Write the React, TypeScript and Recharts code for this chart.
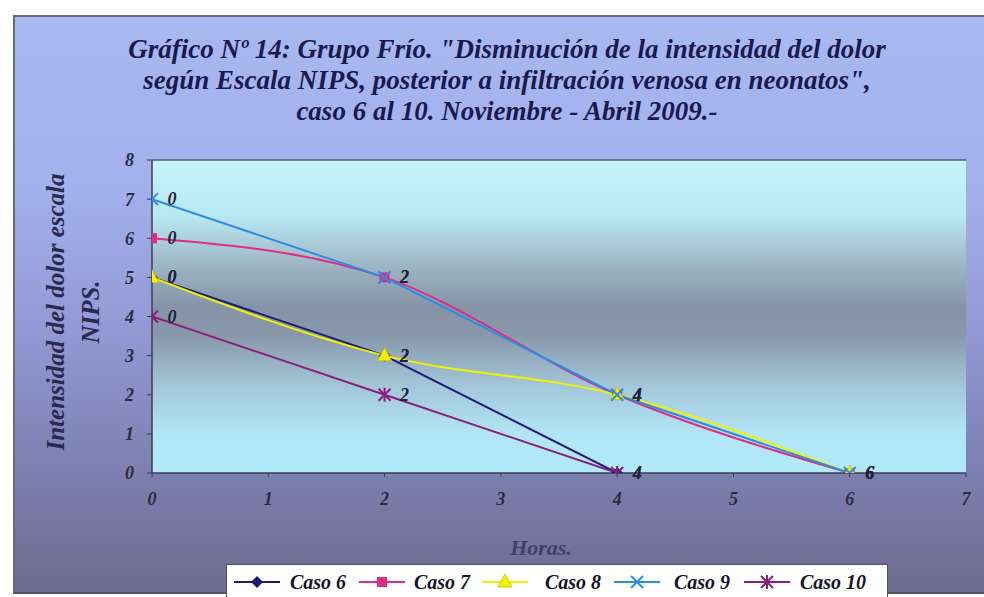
import React from "react";
import {
  LineChart,
  Line,
  XAxis,
  YAxis,
  CartesianGrid,
  LabelList,
  ReferenceLine,
} from "recharts";

// ---- data ----
const horas = [0, 2, 4, 6];
const caso6: (number | null)[] = [5, 3, 0, null];
const caso7: (number | null)[] = [6, 5, 2, 0];
const caso8: (number | null)[] = [5, 3, 2, 0];
const caso9: (number | null)[] = [7, 5, 2, 0];
const caso10: (number | null)[] = [4, 2, 0, null];

const xTicks = [0, 1, 2, 3, 4, 5, 6, 7];
const yTicks = [0, 1, 2, 3, 4, 5, 6, 7, 8];

const titleLines = [
  'Gráfico Nº 14: Grupo Frío. "Disminución de la intensidad del dolor',
  'según Escala NIPS, posterior a infiltración venosa en neonatos",',
  "caso 6 al 10. Noviembre - Abril 2009.-",
];
const yLabelLines = ["Intensidad del dolor escala", "NIPS."];
const xLabel = "Horas.";

const seriesNames = ["Caso 6", "Caso 7", "Caso 8", "Caso 9", "Caso 10"];
const seriesKeys = ["c6", "c7", "c8", "c9", "c10"];
const seriesValues = [caso6, caso7, caso8, caso9, caso10];

const rows = horas.map((h, i) => ({
  h,
  c6: caso6[i],
  c7: caso7[i],
  c8: caso8[i],
  c9: caso9[i],
  c10: caso10[i],
}));

// ---- styles ----
const FONT = "'Liberation Serif', 'Times New Roman', serif";
const COLORS = ["#1c1c78", "#e02c84", "#f2f200", "#2a8ee6", "#8a207e"];
const W = 984;
const H = 597;

type Shape = "diamond" | "square" | "triangle" | "x" | "star";
const SHAPES: Shape[] = ["diamond", "square", "triangle", "x", "star"];
const LEGEND_ICON_X = [232, 357, 480, 612, 742];
const LEGEND_TEXT_X = [290, 414, 545, 674, 800];

function Marker({ cx, cy, shape, color }: { cx: number; cy: number; shape: Shape; color: string }) {
  if (cx == null || cy == null || isNaN(cx) || isNaN(cy)) return <g />;
  switch (shape) {
    case "diamond":
      return (
        <polygon
          points={`${cx},${cy - 6} ${cx + 6},${cy} ${cx},${cy + 6} ${cx - 6},${cy}`}
          fill={color}
        />
      );
    case "square":
      return <rect x={cx - 5} y={cy - 5} width={10} height={10} fill={color} />;
    case "triangle":
      return (
        <polygon
          points={`${cx},${cy - 8} ${cx + 7},${cy + 5} ${cx - 7},${cy + 5}`}
          fill={color}
          stroke="#c8c000"
          strokeWidth={0.8}
        />
      );
    case "x":
      return (
        <g stroke={color} strokeWidth={2}>
          <line x1={cx - 6} y1={cy - 6} x2={cx + 6} y2={cy + 6} />
          <line x1={cx - 6} y1={cy + 6} x2={cx + 6} y2={cy - 6} />
        </g>
      );
    case "star":
      return (
        <g stroke={color} strokeWidth={2}>
          <line x1={cx - 6} y1={cy - 6} x2={cx + 6} y2={cy + 6} />
          <line x1={cx - 6} y1={cy + 6} x2={cx + 6} y2={cy - 6} />
          <line x1={cx} y1={cy - 7} x2={cx} y2={cy + 7} />
        </g>
      );
  }
  return <g />;
}

const makeDot = (shape: Shape, color: string) => (props: any) => (
  <Marker key={props.key ?? `${props.index}`} cx={props.cx} cy={props.cy} shape={shape} color={color} />
);

const makeLabel = (vals: (number | null)[]) => (props: any) => {
  const { x, y, value, index } = props;
  if (vals[index] == null || y == null || isNaN(y)) return <g key={index} />;
  return (
    <text
      key={index}
      x={x + 20}
      y={y + 6}
      textAnchor="middle"
      fontFamily={FONT}
      fontStyle="italic"
      fontWeight="bold"
      fontSize={18}
      fill="#22223a"
    >
      {value}
    </text>
  );
};

const tickStyle = {
  fontFamily: FONT,
  fontStyle: "italic",
  fontWeight: "bold",
  fontSize: 18,
  fill: "#2c2c44",
} as any;

function LegendIcon({ shape, color }: { shape: Shape; color: string }) {
  return (
    <svg width={50} height={16} style={{ display: "block" }}>
      <line x1={2} y1={8} x2={48} y2={8} stroke={color} strokeWidth={2} />
      <Marker cx={25} cy={8} shape={shape} color={color} />
    </svg>
  );
}

export default function App() {
  return (
    <div
      style={{
        position: "absolute",
        left: 0,
        top: 0,
        width: W,
        height: H,
        background: "#ffffff",
        overflow: "hidden",
        fontFamily: FONT,
      }}
    >
      {/* outer chart panel */}
      <div
        style={{
          position: "absolute",
          left: 13,
          top: 15,
          width: W - 13,
          height: 579,
          boxSizing: "border-box",
          borderTop: "2px solid #6a6a78",
          borderLeft: "2px solid #6a6a78",
          borderBottom: "2px solid #505068",
          background:
            "linear-gradient(to bottom, #a8b8f0 0%, #a2b0ec 30%, #9298d4 55%, #7e80b0 78%, #6c6c8e 100%)",
        }}
      />

      {/* title */}
      <div
        style={{
          position: "absolute",
          left: 30,
          width: 954,
          top: 34,
          textAlign: "center",
          fontFamily: FONT,
          fontStyle: "italic",
          fontWeight: "bold",
          fontSize: 27,
          lineHeight: "31px",
          color: "#1a1a50",
          whiteSpace: "nowrap",
        }}
      >
        {titleLines.map((t, i) => (
          <div key={i}>{t}</div>
        ))}
      </div>

      {/* y axis label */}
      {yLabelLines.map((t, i) => (
        <div
          key={i}
          style={{
            position: "absolute",
            left: i === 0 ? 56 : 91,
            top: 312,
            transform: "translate(-50%, -50%) rotate(-90deg)",
            fontFamily: FONT,
            fontStyle: "italic",
            fontWeight: "bold",
            fontSize: 25,
            color: "#2a2a4e",
            whiteSpace: "nowrap",
          }}
        >
          {t}
        </div>
      ))}

      {/* x axis label */}
      <div
        style={{
          position: "absolute",
          left: 541,
          top: 548,
          transform: "translate(-50%, -50%)",
          fontFamily: FONT,
          fontStyle: "italic",
          fontWeight: "bold",
          fontSize: 22,
          color: "#40406a",
          whiteSpace: "nowrap",
        }}
      >
        {xLabel}
      </div>

      <div style={{ position: "absolute", left: 0, top: 0 }}>
        <LineChart
          width={W}
          height={H}
          data={rows}
          margin={{ top: 160, left: 112, right: 18, bottom: 84 }}
        >
          <defs>
            <linearGradient id="plotBg" x1="0" y1="0" x2="0" y2="1">
              <stop offset="0%" stopColor="#c6f4fa" />
              <stop offset="18%" stopColor="#b8e8f2" />
              <stop offset="34%" stopColor="#9cb4c2" />
              <stop offset="47%" stopColor="#8494a6" />
              <stop offset="56%" stopColor="#8898aa" />
              <stop offset="72%" stopColor="#a2c6d8" />
              <stop offset="88%" stopColor="#b2e6f6" />
              <stop offset="100%" stopColor="#b0eaf8" />
            </linearGradient>
          </defs>
          <CartesianGrid horizontal={false} vertical={false} fill="url(#plotBg)" />
          <XAxis
            type="number"
            dataKey="h"
            domain={[0, 7]}
            ticks={xTicks}
            interval={0}
            height={40}
            allowDataOverflow
            axisLine={{ stroke: "#3c3c50", strokeWidth: 1.5 }}
            tickLine={{ stroke: "#3c3c50" }}
            tickSize={4}
            tickMargin={15}
            tick={tickStyle}
          />
          <YAxis
            type="number"
            domain={[0, 8]}
            ticks={yTicks}
            interval={0}
            width={40}
            allowDataOverflow
            axisLine={{ stroke: "#3c3c50", strokeWidth: 1.5 }}
            tickLine={{ stroke: "#3c3c50" }}
            tickSize={5}
            tickMargin={13}
            tick={tickStyle}
          />
          <ReferenceLine y={8} stroke="#5a5a6a" strokeWidth={1.5} />
          {seriesKeys.map((k, i) => (
            <Line
              key={k}
              dataKey={k}
              name={seriesNames[i]}
              type={k === "c7" || k === "c8" ? "monotone" : "linear"}
              stroke={COLORS[i]}
              strokeWidth={2}
              dot={makeDot(SHAPES[i], COLORS[i])}
              activeDot={false}
              isAnimationActive={false}
              connectNulls={false}
            >
              <LabelList dataKey="h" content={makeLabel(seriesValues[i])} />
            </Line>
          ))}
        </LineChart>
      </div>

      {/* legend */}
      <div
        style={{
          position: "absolute",
          left: 226,
          top: 564,
          width: 662,
          height: 40,
          boxSizing: "border-box",
          background: "#ffffff",
          border: "1.5px solid #505060",
        }}
      />
      {seriesNames.map((n, i) => (
        <React.Fragment key={n}>
          <div style={{ position: "absolute", left: LEGEND_ICON_X[i], top: 574 }}>
            <LegendIcon shape={SHAPES[i]} color={COLORS[i]} />
          </div>
          <div
            style={{
              position: "absolute",
              left: LEGEND_TEXT_X[i],
              top: 571,
              fontFamily: FONT,
              fontStyle: "italic",
              fontWeight: "bold",
              fontSize: 20,
              color: "#14142a",
              lineHeight: "22px",
              whiteSpace: "nowrap",
            }}
          >
            {n}
          </div>
        </React.Fragment>
      ))}
    </div>
  );
}
